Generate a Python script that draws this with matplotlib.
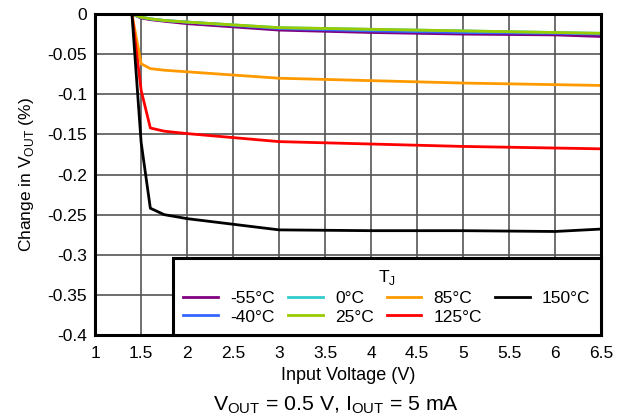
import matplotlib
matplotlib.use("Agg")
import matplotlib.pyplot as plt

plt.rcParams['font.family'] = ['Liberation Sans', 'DejaVu Sans']

# Datos
vin = [1.4, 1.5, 1.6, 1.75, 2.0, 3.0, 4.0, 5.0, 6.0, 6.5]
temps = ['-55°C', '-40°C', '0°C', '25°C', '85°C', '125°C', '150°C']
colores = ['#800080', '#3366FF', '#33CCCC', '#99CC00', '#FF9900', '#FF0000', '#000000']
dv_m55 = [0, -0.005, -0.007, -0.009, -0.012, -0.020, -0.023, -0.025, -0.026, -0.028]
dv_m40 = [0, -0.004, -0.006, -0.008, -0.010, -0.018, -0.021, -0.023, -0.024, -0.025]
dv_0 = [0, -0.004, -0.006, -0.008, -0.010, -0.017, -0.019, -0.021, -0.023, -0.024]
dv_25 = [0, -0.004, -0.006, -0.008, -0.010, -0.017, -0.019, -0.021, -0.023, -0.024]
dv_85 = [0, -0.062, -0.068, -0.070, -0.072, -0.080, -0.083, -0.086, -0.088, -0.089]
dv_125 = [0, -0.095, -0.142, -0.146, -0.149, -0.159, -0.162, -0.165, -0.167, -0.168]
dv_150 = [0, -0.160, -0.242, -0.250, -0.255, -0.269, -0.270, -0.270, -0.271, -0.268]
series = [dv_m55, dv_m40, dv_0, dv_25, dv_85, dv_125, dv_150]

xticks = [1, 1.5, 2, 2.5, 3, 3.5, 4, 4.5, 5, 5.5, 6, 6.5]
xlabels = ['1', '1.5', '2', '2.5', '3', '3.5', '4', '4.5', '5', '5.5', '6', '6.5']
yticks = [0, -0.05, -0.1, -0.15, -0.2, -0.25, -0.3, -0.35, -0.4]
ylabels = ['0', '-0.05', '-0.1', '-0.15', '-0.2', '-0.25', '-0.3', '-0.35', '-0.4']

fig = plt.figure(figsize=(6.26, 4.19), dpi=100)
ax = fig.add_axes([0.152, 0.2005, 0.808, 0.766])

for y, c, t in zip(series, colores, temps):
    ax.plot(vin, y, color=c, lw=2, label=t)

ax.set_xlim(1, 6.5)
ax.set_ylim(-0.4, 0)
ax.set_xticks(xticks)
ax.set_xticklabels(xlabels)
ax.set_yticks(yticks)
ax.set_yticklabels(ylabels)
ax.tick_params(length=0, labelsize=12.5)
ax.tick_params(axis='x', pad=8)
ax.tick_params(axis='y', pad=6)
ax.grid(True, color='#555555', lw=1.2)
for s in ax.spines.values():
    s.set_linewidth(2.2)
    s.set_color('black')

ax.set_xlabel('Input Voltage (V)', fontsize=13, labelpad=4)
ax.set_ylabel('Change in V$_{\\mathregular{OUT}}$ (%)', fontsize=12.5, labelpad=8)

leg = ax.legend(title='T$_{\\mathregular{J}}$', ncol=4, loc='lower left',
                bbox_to_anchor=(0.154, 0.0, 0.846, 0.24), mode='expand',
                borderaxespad=0, fancybox=False, framealpha=1, edgecolor='black',
                fontsize=12.5, title_fontsize=12.5, handlelength=2.0,
                labelspacing=0.2, columnspacing=1.0, handletextpad=0.7,
                borderpad=0.6)
leg.get_frame().set_linewidth(2.2)

fig.text(0.537, 0.033, 'V$_{\\mathregular{OUT}}$ = 0.5 V, I$_{\\mathregular{OUT}}$ = 5 mA',
         ha='center', va='center', fontsize=15.3)

fig.savefig('out.png', dpi=100)
